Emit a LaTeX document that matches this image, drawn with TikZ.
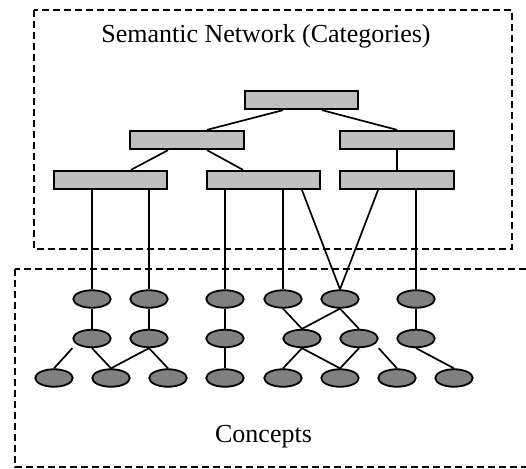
\documentclass[tikz,border=0pt]{standalone}
\usepackage{fontspec}
\setmainfont{Liberation Serif}
\usetikzlibrary{shapes.geometric,calc,backgrounds}
\definecolor{catgrey}{HTML}{C0C0C0}
\definecolor{congrey}{HTML}{808080}
\begin{document}
\begin{tikzpicture}[x=1pt,y=-1pt,
  cat/.style={draw, fill=catgrey, minimum width=113.5pt, minimum height=18.5pt, inner sep=0pt, line width=1.8pt},
  con/.style={ellipse, draw, fill=congrey, minimum width=37.5pt, minimum height=17.5pt, inner sep=0pt, line width=1.8pt},
  link/.style={line width=1.7pt},
  region/.style={dash pattern=on 7pt off 4pt, line width=1.4pt},
  label/.style={font=\fontsize{26}{30}\selectfont, anchor=base, inner sep=0pt}]
\useasboundingbox (0,0) rectangle (526,468);

% category rectangles
\node[cat] (R0) at (301.5,100) {};
\node[cat] (R1) at (187,140) {};
\node[cat] (R2) at (397,140) {};
\node[cat] (R3) at (110.5,180) {};
\node[cat] (R4) at (263.5,180) {};
\node[cat] (R5) at (397,180) {};

% concept ellipses, three rows
\foreach \n/\x in {1/92,2/149,3/225,4/283,5/340,6/416}
  \node[con] (a\n) at (\x,299) {};
\foreach \n/\x in {1/92,2/149,3/225,4/302,5/359,6/416}
  \node[con] (b\n) at (\x,338.5) {};
\foreach \n/\x in {1/54,2/111,3/168,4/225,5/283,6/340,7/397,8/454}
  \node[con] (c\n) at (\x,378) {};

% labels
\node[label] (title) at (266,43) {Semantic Network (Categories)};
\node[label] (concepts) at (263.5,442) {Concepts};

\begin{scope}[on background layer]
  % dashed regions
  \draw[region] (34,10) rectangle (512,249);
  \draw[region] (15,269) rectangle (540,467);

  % category hierarchy
  \draw[link] ($(R0.south)+(-18.5,0)$) -- ($(R1.north)+(20,0)$);
  \draw[link] ($(R0.south)+(20.5,0)$) -- (R2.north);
  \draw[link] ($(R1.south)+(-19,0)$) -- ($(R3.north)+(20.5,0)$);
  \draw[link] ($(R1.south)+(20,0)$) -- ($(R4.north)+(-20.5,0)$);
  \draw[link] (R2.south) -- (R5.north);

  % categories to concepts
  \draw[link] (a1.north |- R3.south) -- (a1.north);
  \draw[link] (a2.north |- R3.south) -- (a2.north);
  \draw[link] (a3.north |- R4.south) -- (a3.north);
  \draw[link] (a4.north |- R4.south) -- (a4.north);
  \draw[link] (b4.north |- R4.south) -- (a5.north);
  \draw[link] ($(R5.south)+(-19,0)$) -- (a5.north);
  \draw[link] (a6.north |- R5.south) -- (a6.north);

  % concept links, first to second row
  \draw[link] (a1.south) -- (b1.north);
  \draw[link] (a2.south) -- (b2.north);
  \draw[link] (a3.south) -- (b3.north);
  \draw[link] (a4.south) -- (b4.north);
  \draw[link] (a5.south) -- (b4.north);
  \draw[link] (a5.south) -- (b5.north);
  \draw[link] (a6.south) -- (b6.north);

  % concept links, second to third row
  \draw[link] (b1.west |- b1.south) -- (c1.north);
  \draw[link] (b1.south) -- (c2.north);
  \draw[link] (b2.south) -- (c2.north);
  \draw[link] (b2.south) -- (c3.north);
  \draw[link] (b3.south) -- (c4.north);
  \draw[link] (b4.south) -- (c5.north);
  \draw[link] (b4.south) -- (c6.north);
  \draw[link] (b5.south) -- (c6.north);
  \draw[link] (b5.east |- b5.south) -- (c7.north);
  \draw[link] (b6.south) -- (c8.north);
\end{scope}
\end{tikzpicture}
\end{document}
